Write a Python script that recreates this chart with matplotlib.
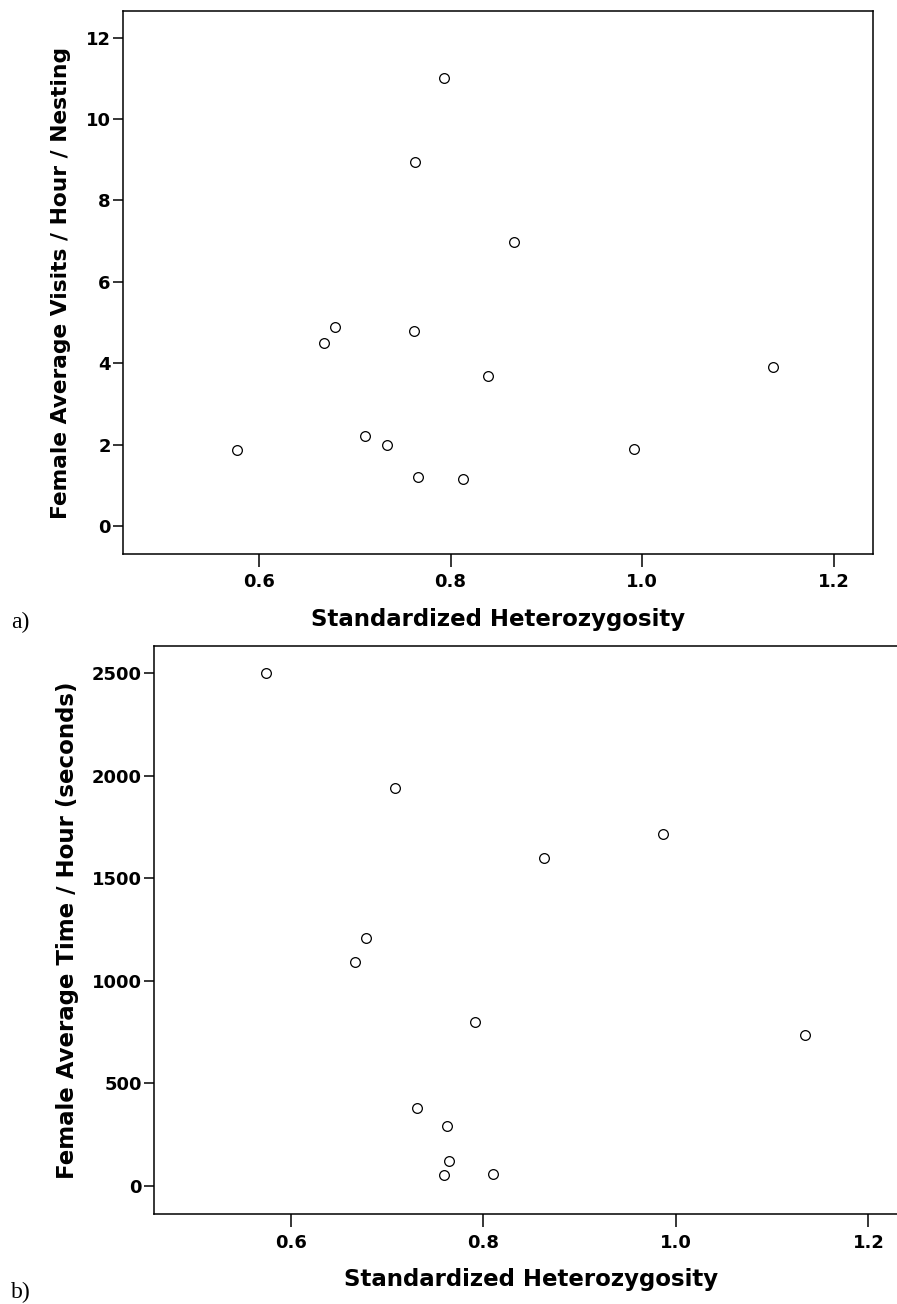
import matplotlib
matplotlib.use('Agg')
import matplotlib.pyplot as plt

# panel a) female visits per hour per nestling
het_a = [0.793, 0.763, 0.866, 0.679, 0.668, 0.762, 0.839, 1.137,
         0.711, 0.734, 0.577, 0.992, 0.766, 0.813]
visits = [11.0, 8.95, 6.97, 4.90, 4.50, 4.78, 3.69, 3.90,
          2.20, 2.00, 1.87, 1.89, 1.21, 1.15]

# panel b) female time per hour (seconds)
het_b = [0.575, 0.708, 0.987, 0.863, 0.678, 0.667, 0.791, 1.134,
         0.731, 0.762, 0.764, 0.759, 0.810]
time_sec = [2500, 1939, 1716, 1597, 1209, 1090, 801, 734,
            381, 292, 122, 54, 56]

x_ticks = [0.6, 0.8, 1.0, 1.2]
x_ticklabels = ['0.6', '0.8', '1.0', '1.2']
ya_ticks = [0, 2, 4, 6, 8, 10, 12]
yb_ticks = [0, 500, 1000, 1500, 2000, 2500]

plt.rcParams['font.family'] = ['DejaVu Sans']

fig = plt.figure(figsize=(8.97, 13.04), dpi=100)
ax_a = fig.add_axes([0.1375, 0.5752, 0.8358, 0.4164])
ax_b = fig.add_axes([0.1720, 0.0688, 0.8402, 0.4360])


def style(ax):
    for sp in ax.spines.values():
        sp.set_linewidth(1.1)
    ax.tick_params(axis='x', direction='out', length=9, width=1.1, labelsize=13, pad=5)
    ax.tick_params(axis='y', direction='out', length=7, width=1.1, labelsize=13, pad=2)
    for lab in ax.get_xticklabels() + ax.get_yticklabels():
        lab.set_fontweight('bold')


ax_a.plot(het_a, visits, 'o', mfc='white', mec='black', mew=0.9, ms=7, linestyle='none')
ax_a.set_xlim(0.4585, 1.241)
ax_a.set_ylim(-0.69, 12.66)
ax_a.set_xticks(x_ticks)
ax_a.set_xticklabels(x_ticklabels)
ax_a.set_yticks(ya_ticks)
ax_a.set_xlabel('Standardized Heterozygosity', fontsize=16.5, fontweight='bold', labelpad=12)
ax_a.set_ylabel('Female Average Visits / Hour / Nesting', fontsize=15.7, fontweight='bold', labelpad=11)
style(ax_a)

ax_b.plot(het_b, time_sec, 'o', mfc='white', mec='black', mew=0.9, ms=7, linestyle='none')
ax_b.set_xlim(0.4585, 1.241)
ax_b.set_ylim(-138, 2634)
ax_b.set_xticks(x_ticks)
ax_b.set_xticklabels(x_ticklabels)
ax_b.set_yticks(yb_ticks)
ax_b.set_xlabel('Standardized Heterozygosity', fontsize=16.5, fontweight='bold', labelpad=12)
ax_b.set_ylabel('Female Average Time / Hour (seconds)', fontsize=16.5, fontweight='bold', labelpad=9)
style(ax_b)

fig.text(11 / 897, 1 - 622 / 1304, 'a)', fontsize=17, family='Liberation Serif', va='center', ha='left')
fig.text(11 / 897, 1 - 1292 / 1304, 'b)', fontsize=17, family='Liberation Serif', va='center', ha='left')

fig.savefig('out.png', dpi=100)
